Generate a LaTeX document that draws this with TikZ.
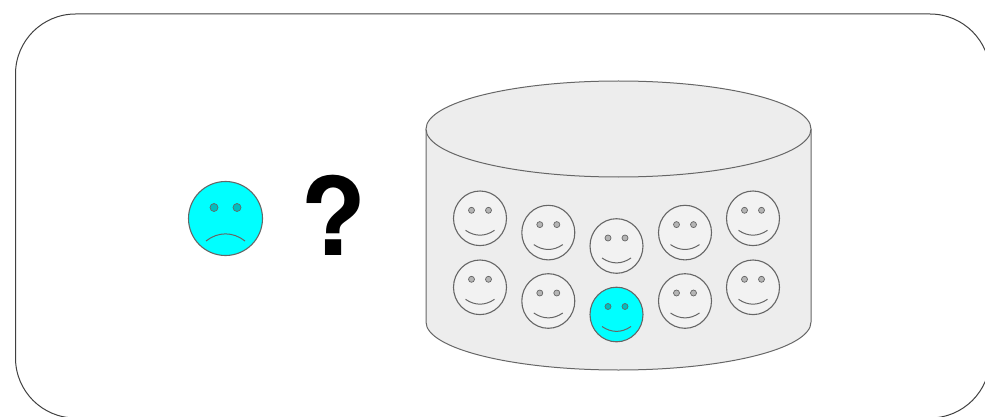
\documentclass[tikz,border=0pt]{standalone}
\usepackage{fontspec}
\setmainfont{TeX Gyre Heros}
\definecolor{edgegray}{HTML}{666666}
\definecolor{cylfill}{HTML}{EDEDED}
\definecolor{facefill}{HTML}{F2F2F2}
\definecolor{aqua}{HTML}{00FFFF}
\tikzset{
  frame/.style={draw=black!75,line width=1pt},
  cylpart/.style={draw=edgegray,fill=cylfill,line width=1pt},
  facebody/.style={draw=edgegray,line width=1.1pt},
  eyedot/.style={draw=edgegray,fill=black,fill opacity=0.25,line width=0.7pt},
  mouth/.style={draw=edgegray,line width=1pt},
}
\newcommand{\smileface}[3]{%
  \begin{scope}[shift={(#1,#2)}]
    \fill[#3] (0,0) ellipse [x radius=26.5,y radius=27.3];
    \draw[facebody] (0,0) ellipse [x radius=26.5,y radius=27.3];
    \draw[eyedot] (-8.5,-8) circle [radius=3];
    \draw[eyedot] (8.5,-8) circle [radius=3];
    \draw[mouth] (-14.5,12) .. controls (-5,18.5) and (5,18.5) .. (14.5,12);
  \end{scope}}
\begin{document}
\begin{tikzpicture}[x=1pt,y=-1pt]
\useasboundingbox (0,0) rectangle (985,417);
\clip (0,0) rectangle (985,417);
\draw[frame,rounded corners=60pt] (15.5,14) rectangle (990,418);
% cylinder
\draw[cylpart] (426,129) -- (426,322) arc [start angle=180,end angle=0,x radius=192.5,y radius=48] -- (811,129);
\draw[cylpart] (618.5,129) ellipse [x radius=192.5,y radius=48];
% sad face
\fill[aqua] (225.5,218.5) circle [radius=37];
\draw[facebody] (225.5,218.5) circle [radius=37];
\draw[eyedot] (214,207.5) circle [radius=4];
\draw[eyedot] (237,207.5) circle [radius=4];
\draw[mouth] (206,241) .. controls (218,231.5) and (233,231.5) .. (245,241);
\node[inner sep=0pt,font=\bfseries\fontsize{108}{108}\selectfont] (q) at (333.3,215) {?};
% smiling faces
\smileface{480}{218.3}{facefill}
\smileface{548.3}{232.6}{facefill}
\smileface{616.5}{246}{facefill}
\smileface{685}{232.6}{facefill}
\smileface{753}{218.3}{facefill}
\smileface{480}{287.3}{facefill}
\smileface{548.3}{301}{facefill}
\smileface{616.5}{314.5}{aqua}
\smileface{685}{301}{facefill}
\smileface{753}{287.3}{facefill}
\end{tikzpicture}
\end{document}
